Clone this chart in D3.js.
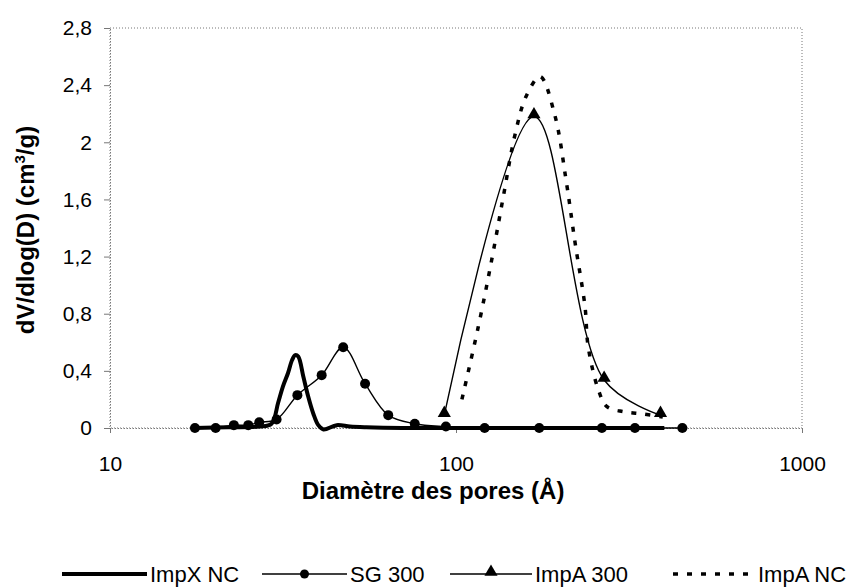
<!DOCTYPE html>
<html>
<head>
<meta charset="utf-8">
<script src="https://cdn.jsdelivr.net/npm/d3@7"></script>
<style>
  body { margin: 0; background: #fff; }
  text { font-family: "Liberation Sans", Arial, sans-serif; fill: #000; }
</style>
</head>
<body>
<svg id="chart" width="850" height="588"></svg>
<script>
// Diameters (Å) and dV/dlog(D) values
const impxD = [17.6, 22, 27, 29.3, 30.6, 31.6, 32.7, 33.6, 34.3, 35.0, 36.2, 37.4, 38.7, 40.0, 41.4, 45.2, 49.4, 55, 70, 100, 200, 400];
const impxV = [0, 0.005, 0.01, 0.03, 0.175, 0.29, 0.385, 0.476, 0.51, 0.5, 0.36, 0.22, 0.10, 0.02, -0.01, 0.02, 0.01, 0.005, 0, 0, 0, 0];

const sgD = [17.6, 20.2, 22.8, 25.1, 27.0, 30.3, 34.8, 40.9, 47.2, 54.6, 63.7, 76.0, 93.5, 121, 174, 264, 329, 451];
const sgV = [0, 0, 0.02, 0.02, 0.04, 0.06, 0.23, 0.37, 0.565, 0.31, 0.09, 0.03, 0.01, 0, 0, 0, 0, 0];

const impa300D = [92.5, 168, 268, 390];
const impa300V = [0.09, 2.18, 0.336, 0.09];

const impaNcD = [104, 116, 126.8, 137, 148, 159.4, 175, 193, 208, 221, 236, 241, 258, 273, 306, 347.6, 396];
const impaNcV = [0.2, 0.709, 1.176, 1.619, 2.05, 2.32, 2.46, 2.19, 1.736, 1.293, 0.848, 0.569, 0.266, 0.149, 0.114, 0.098, 0.077];

const yTicks = [0, 0.4, 0.8, 1.2, 1.6, 2, 2.4, 2.8];
const xTicks = [10, 100, 1000];
const seriesNames = ['ImpX NC', 'SG 300', 'ImpA 300', 'ImpA NC'];

const margin = {top: 28, right: 48, bottom: 160, left: 110};
const width = 850 - margin.left - margin.right;
const height = 588 - margin.top - margin.bottom;

const svg = d3.select('#chart');
const chart = svg.append('g')
  .attr('transform', `translate(${margin.left}, ${margin.top})`);

const x = d3.scaleLog().domain([10, 1000]).range([0, width]);
const y = d3.scaleLinear().domain([0, 2.8]).range([height, 0]);

const fmt = d => String(d).replace('.', ',');

// plot area border (dotted grey, like the scanned original)
chart.append('rect')
  .attr('width', width)
  .attr('height', height)
  .attr('fill', 'none')
  .attr('stroke', '#777')
  .attr('stroke-dasharray', '1,2');

const yAxis = d3.axisLeft(y)
  .tickValues(yTicks)
  .tickFormat(fmt)
  .tickSize(6)
  .tickPadding(12);

const xAxis = d3.axisBottom(x)
  .tickValues(xTicks)
  .tickFormat(d3.format('d'))
  .tickSize(5)
  .tickPadding(23);

const axisY = chart.append('g').call(yAxis);
const axisX = chart.append('g')
  .attr('transform', `translate(0, ${height})`)
  .call(xAxis);

[axisY, axisX].forEach(a => {
  a.select('.domain').attr('stroke', '#777').attr('stroke-dasharray', '1,2');
  a.selectAll('.tick line').attr('stroke', '#777');
  a.selectAll('.tick text').style('font-size', '21px');
});

// axis titles
svg.append('text')
  .attr('x', 433)
  .attr('y', 499)
  .attr('text-anchor', 'middle')
  .style('font-size', '24px')
  .style('font-weight', 'bold')
  .text('Diamètre des pores (Å)');

const yTitle = svg.append('text')
  .attr('transform', 'translate(34, 230) rotate(-90)')
  .attr('text-anchor', 'middle')
  .style('font-size', '24px')
  .style('font-weight', 'bold');
yTitle.append('tspan').text('dV/dlog(D) (cm');
yTitle.append('tspan').attr('dy', -9).style('font-size', '15px').text('3');
yTitle.append('tspan').attr('dy', 9).text('/g)');

const line = d3.line()
  .x(d => x(d[0]))
  .y(d => y(d[1]))
  .curve(d3.curveCatmullRom);

const zip = (a, b) => a.map((v, i) => [v, b[i]]);

const impx = zip(impxD, impxV);
const sg = zip(sgD, sgV);
const impa300 = zip(impa300D, impa300V);
const impaNc = zip(impaNcD, impaNcV);

chart.append('path')
  .datum(impaNc)
  .attr('fill', 'none')
  .attr('stroke', '#000')
  .attr('stroke-width', 3.5)
  .attr('stroke-dasharray', '5,9')
  .attr('d', line);

chart.append('path')
  .datum(impa300)
  .attr('fill', 'none')
  .attr('stroke', '#000')
  .attr('stroke-width', 1.4)
  .attr('d', line);

chart.append('path')
  .datum(sg)
  .attr('fill', 'none')
  .attr('stroke', '#000')
  .attr('stroke-width', 1.4)
  .attr('d', line);

chart.append('path')
  .datum(impx)
  .attr('fill', 'none')
  .attr('stroke', '#000')
  .attr('stroke-width', 4)
  .attr('d', line);

const triangle = d3.symbol().type(d3.symbolTriangle).size(75);

chart.selectAll('.sg')
    .data(sg)
  .enter().append('circle')
    .attr('class', 'sg')
    .attr('r', 5)
    .attr('cx', d => x(d[0]))
    .attr('cy', d => y(d[1]))
    .attr('fill', '#000');

chart.selectAll('.impa300')
    .data(impa300)
  .enter().append('path')
    .attr('class', 'impa300')
    .attr('d', triangle)
    .attr('transform', d => `translate(${x(d[0])}, ${y(d[1]) - 2})`)
    .attr('fill', '#000');

// legend
const legendY = 574;
const legendItems = [
  {name: seriesNames[0], x0: 62, x1: 147, width: 4, dash: null, marker: null},
  {name: seriesNames[1], x0: 262, x1: 347, width: 1.4, dash: null, marker: 'circle'},
  {name: seriesNames[2], x0: 450, x1: 532, width: 1.4, dash: null, marker: 'triangle'},
  {name: seriesNames[3], x0: 673, x1: 755, width: 3.5, dash: '5,9', marker: null}
];

const legend = svg.append('g');
legendItems.forEach(item => {
  legend.append('line')
    .attr('x1', item.x0)
    .attr('x2', item.x1)
    .attr('y1', legendY)
    .attr('y2', legendY)
    .attr('stroke', '#000')
    .attr('stroke-width', item.width)
    .attr('stroke-dasharray', item.dash);
  const mx = (item.x0 + item.x1) / 2;
  if (item.marker === 'circle') {
    legend.append('circle').attr('cx', mx).attr('cy', legendY).attr('r', 4.5);
  } else if (item.marker === 'triangle') {
    legend.append('path').attr('d', triangle)
      .attr('transform', `translate(${mx}, ${legendY - 2})`);
  }
  legend.append('text')
    .attr('x', item.x1 + 3)
    .attr('y', legendY + 8)
    .style('font-size', '22px')
    .text(item.name);
});
</script>
</body>
</html>
